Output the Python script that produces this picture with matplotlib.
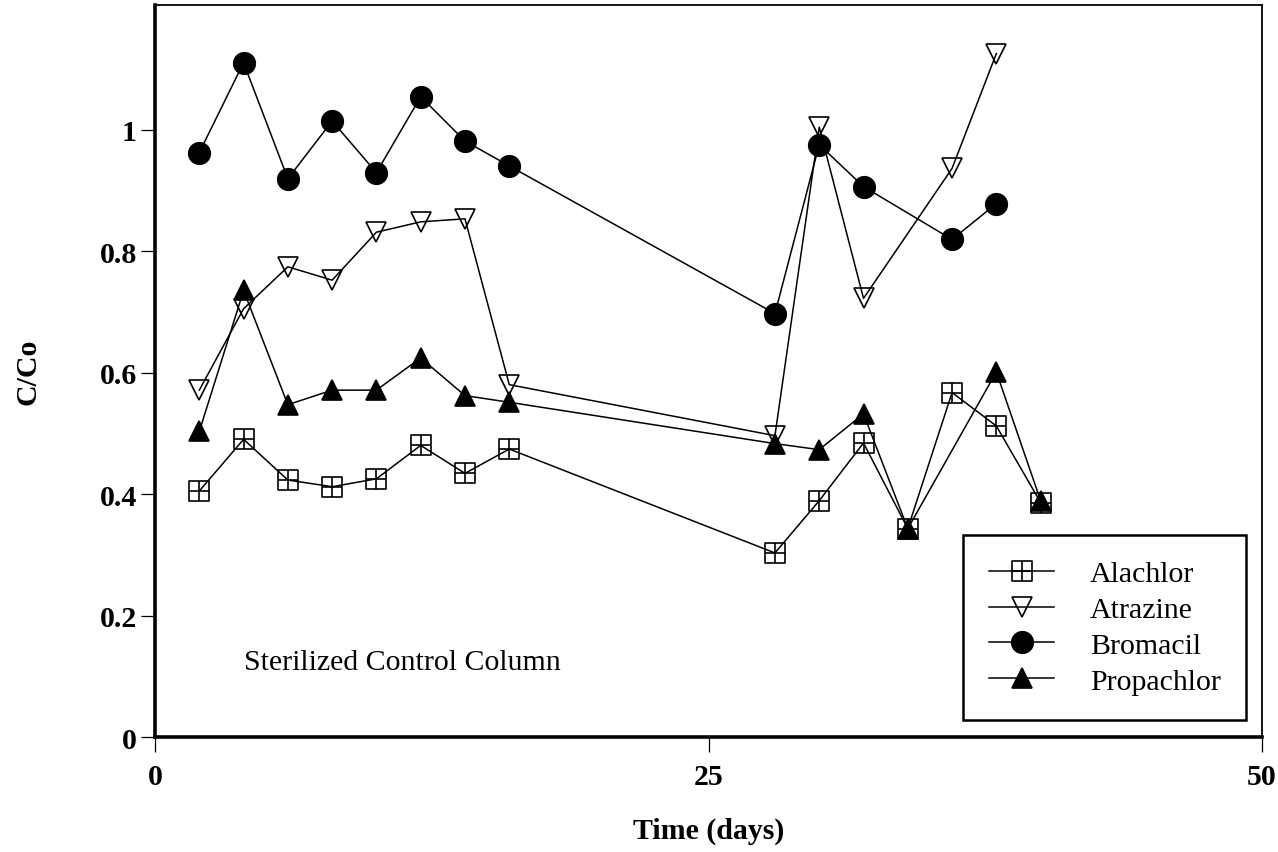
import matplotlib
matplotlib.use("Agg")
import matplotlib.pyplot as plt
from matplotlib.path import Path

plt.rcParams['font.family'] = ['Liberation Serif', 'DejaVu Serif']

# sampling days and C/Co for each herbicide
alachlor_days = [2, 4, 6, 8, 10, 12, 14, 16, 28, 30, 32, 34, 36, 38, 40]
alachlor = [0.405, 0.490, 0.423, 0.412, 0.425, 0.480, 0.434, 0.474,
            0.303, 0.389, 0.484, 0.343, 0.567, 0.512, 0.386]

atrazine_days = [2, 4, 6, 8, 10, 12, 14, 16, 28, 30, 32, 36, 38]
atrazine = [0.571, 0.705, 0.774, 0.752, 0.831, 0.848, 0.853, 0.580,
            0.496, 1.004, 0.722, 0.936, 1.125]

bromacil_days = [2, 4, 6, 8, 10, 12, 14, 16, 28, 30, 32, 36, 38]
bromacil = [0.962, 1.110, 0.919, 1.014, 0.929, 1.054, 0.981, 0.940,
            0.697, 0.975, 0.906, 0.819, 0.878]

propachlor_days = [2, 4, 6, 8, 10, 12, 14, 16, 28, 30, 32, 34, 38, 40]
propachlor = [0.503, 0.735, 0.547, 0.571, 0.571, 0.624, 0.562, 0.551,
              0.483, 0.473, 0.532, 0.343, 0.601, 0.389]

x_ticks = [0, 25, 50]
y_ticks = [0, 0.2, 0.4, 0.6, 0.8, 1.0]
y_tick_labels = ['0', '0.2', '0.4', '0.6', '0.8', '1']

# square with a cross inside
boxplus = Path(
    [(-1, -1), (1, -1), (1, 1), (-1, 1), (-1, -1),
     (-1, 0), (1, 0), (0, -1), (0, 1)],
    [Path.MOVETO, Path.LINETO, Path.LINETO, Path.LINETO, Path.CLOSEPOLY,
     Path.MOVETO, Path.LINETO, Path.MOVETO, Path.LINETO])

fig = plt.figure(figsize=(12.78, 8.53), dpi=100)
ax = fig.add_axes([0.1213, 0.1348, 0.8662, 0.8582])

line_kw = dict(color='black', lw=1.1, mec='black', mew=1.2)
ax.plot(alachlor_days, alachlor, marker=boxplus, ms=15, mfc='none',
        label='Alachlor', **line_kw)
ax.plot(atrazine_days, atrazine, marker='v', ms=14.5, mfc='none',
        label='Atrazine', **line_kw)
ax.plot(bromacil_days, bromacil, marker='o', ms=15.5, mfc='black',
        label='Bromacil', **line_kw)
ax.plot(propachlor_days, propachlor, marker='^', ms=14.5, mfc='black',
        label='Propachlor', **line_kw)

ax.set_xlim(0, 50)
ax.set_ylim(0, 1.205)
ax.set_xticks(x_ticks)
ax.set_yticks(y_ticks)
ax.set_yticklabels(y_tick_labels)

for side in ['left', 'bottom']:
    ax.spines[side].set_linewidth(2.6)
for side in ['top', 'right']:
    ax.spines[side].set_linewidth(1.3)

ax.tick_params(axis='y', direction='out', length=10, width=0.9, pad=3,
               labelsize=21.5)
ax.tick_params(axis='x', direction='out', length=11, width=0.9, pad=8,
               labelsize=21.5)
for lab in ax.get_xticklabels() + ax.get_yticklabels():
    lab.set_fontweight('bold')

ax.set_xlabel('Time (days)', fontsize=21.5, fontweight='bold', labelpad=19)
ax.set_ylabel('C/Co', fontsize=21.5, fontweight='bold', labelpad=42)

ax.text(4.0, 0.124, 'Sterilized Control Column', fontsize=21.5, va='center')

leg = ax.legend(loc='lower right', bbox_to_anchor=(0.9855, 0.023),
                borderaxespad=0, fontsize=21.5, numpoints=1,
                handlelength=2.2, handletextpad=1.18, labelspacing=0.3,
                borderpad=0.85, fancybox=False, shadow=False,
                edgecolor='black', framealpha=1)
leg.get_frame().set_linewidth(1.8)

fig.savefig('out.png', dpi=100)
